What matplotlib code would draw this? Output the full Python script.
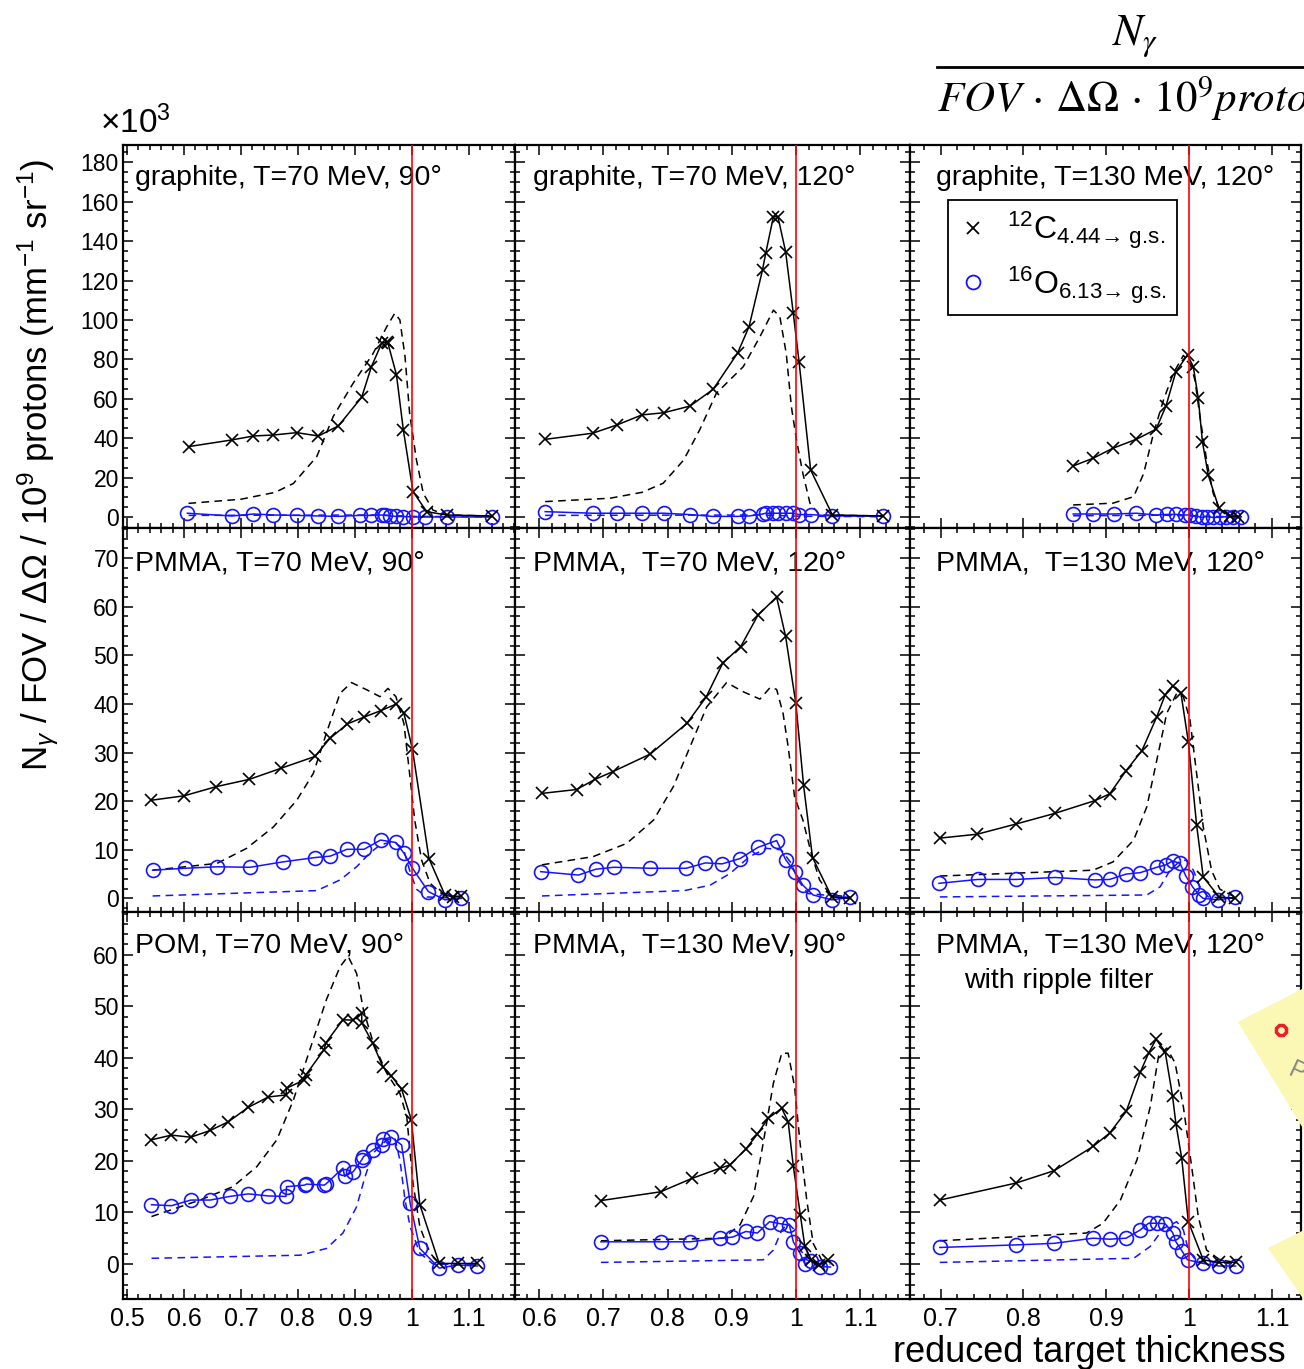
import matplotlib
matplotlib.use('Agg')
import matplotlib.pyplot as plt
from matplotlib.lines import Line2D
from matplotlib.patches import Polygon
from matplotlib.ticker import MultipleLocator, FuncFormatter
from matplotlib import font_manager

plt.rcParams['font.family'] = ['Liberation Sans', 'DejaVu Sans']
plt.rcParams['mathtext.fontset'] = 'custom'
plt.rcParams['mathtext.rm'] = 'Liberation Sans'
plt.rcParams['mathtext.it'] = 'Liberation Sans:italic'
plt.rcParams['mathtext.bf'] = 'Liberation Sans:bold'

names = {f.name for f in font_manager.fontManager.ttflist}
narrow = 'Liberation Sans Narrow' if 'Liberation Sans Narrow' in names else 'Liberation Sans'

# graphite, T=70 MeV, 90 deg
gr70_90_c_x = [0.608, 0.684, 0.722, 0.757, 0.798, 0.836, 0.871, 0.912, 0.929, 0.947, 0.956, 0.958, 0.973, 0.985, 1.002, 1.026, 1.061, 1.140]
gr70_90_c_y = [35.7, 39.1, 41.1, 41.6, 42.8, 41.1, 46.2, 60.8, 76.3, 88.2, 89.0, 88.2, 72.1, 44.2, 12.9, 2.7, 1.0, 0.5]
gr70_90_o_x = [0.606, 0.684, 0.722, 0.757, 0.798, 0.836, 0.871, 0.909, 0.929, 0.947, 0.953, 0.962, 0.973, 0.985, 1.002, 1.023, 1.061, 1.140]
gr70_90_o_y = [1.9, 0.5, 1.5, 1.0, 0.8, 0.5, 0.3, 0.8, 0.8, 1.0, 0.8, 0.5, 0.3, 0.2, 0.0, 0.0, 0.0, 0.0]
gr70_90_csim_x = [0.608, 0.700, 0.760, 0.792, 0.833, 0.862, 0.897, 0.932, 0.956, 0.970, 0.979, 0.988, 0.996, 1.008, 1.020, 1.037, 1.061, 1.140]
gr70_90_csim_y = [6.9, 9.0, 12.5, 17.0, 30.6, 51.0, 67.9, 83.0, 96.6, 103.4, 100.0, 81.4, 52.8, 29.0, 12.0, 3.5, 1.0, 0.5]
gr70_90_osim_x = [0.608, 0.950, 1.000, 1.140]
gr70_90_osim_y = [0.8, 1.0, 0.3, 0.1]

# graphite, T=70 MeV, 120 deg
gr70_120_c_x = [0.609, 0.683, 0.721, 0.760, 0.794, 0.835, 0.871, 0.909, 0.927, 0.948, 0.953, 0.965, 0.972, 0.984, 0.996, 1.005, 1.023, 1.057, 1.136]
gr70_120_c_y = [39.4, 42.5, 46.7, 51.8, 52.9, 56.3, 64.8, 83.1, 96.6, 125.4, 133.9, 152.4, 152.4, 134.7, 103.4, 78.8, 23.9, 1.0, 0.5]
gr70_120_o_x = [0.609, 0.683, 0.721, 0.760, 0.794, 0.835, 0.870, 0.909, 0.927, 0.948, 0.953, 0.965, 0.972, 0.984, 0.996, 1.005, 1.023, 1.057, 1.136]
gr70_120_o_y = [2.7, 1.9, 1.9, 1.9, 1.9, 1.2, 0.3, 0.3, 0.5, 1.5, 1.9, 1.9, 1.9, 1.9, 1.9, 1.2, 1.2, 0.5, 0.5]
gr70_120_csim_x = [0.609, 0.710, 0.760, 0.793, 0.825, 0.850, 0.876, 0.918, 0.944, 0.965, 0.975, 0.985, 0.993, 1.001, 1.011, 1.022, 1.037, 1.136]
gr70_120_csim_y = [7.8, 9.5, 12.5, 17.1, 28.9, 44.2, 62.8, 76.3, 91.5, 105.0, 101.7, 83.0, 56.0, 39.0, 22.0, 7.0, 1.0, 0.5]
gr70_120_osim_x = [0.609, 0.950, 1.000, 1.136]
gr70_120_osim_y = [0.8, 1.0, 0.4, 0.1]

# graphite, T=130 MeV, 120 deg
gr130_120_c_x = [0.860, 0.884, 0.908, 0.936, 0.960, 0.972, 0.984, 0.998, 1.005, 1.011, 1.016, 1.023, 1.036, 1.049, 1.059]
gr130_120_c_y = [25.9, 29.8, 34.9, 39.4, 44.5, 56.3, 73.8, 82.2, 76.3, 60.2, 38.2, 21.3, 4.4, 0.5, 0.2]
gr130_120_o_x = [0.860, 0.884, 0.909, 0.936, 0.960, 0.973, 0.984, 0.995, 1.001, 1.008, 1.015, 1.021, 1.029, 1.037, 1.045, 1.053, 1.063]
gr130_120_o_y = [1.5, 1.5, 1.5, 1.9, 1.0, 1.3, 1.3, 1.0, 1.0, 0.5, -0.2, 0.2, -0.2, -0.2, 0.2, -0.2, 0.2]
gr130_120_csim_x = [0.860, 0.908, 0.933, 0.945, 0.957, 0.969, 0.981, 0.993, 1.001, 1.007, 1.013, 1.021, 1.029, 1.037, 1.049, 1.059]
gr130_120_csim_y = [6.1, 7.0, 10.3, 22.0, 42.5, 59.4, 73.0, 82.0, 78.0, 69.5, 51.0, 29.0, 12.0, 3.5, 1.0, 0.5]
gr130_120_osim_x = [0.860, 0.970, 1.010, 1.059]
gr130_120_osim_y = [0.6, 0.9, 0.4, 0.1]

# PMMA, T=70 MeV, 90 deg
pm70_90_c_x = [0.543, 0.600, 0.657, 0.715, 0.771, 0.830, 0.856, 0.887, 0.916, 0.945, 0.973, 0.986, 1.001, 1.030, 1.058, 1.072, 1.087]
pm70_90_c_y = [20.2, 21.1, 23.0, 24.5, 26.8, 29.2, 32.9, 35.9, 37.3, 38.6, 40.0, 38.1, 30.7, 8.2, 0.7, 0.3, 0.5]
pm70_90_o_x = [0.545, 0.602, 0.658, 0.716, 0.773, 0.830, 0.857, 0.886, 0.916, 0.945, 0.972, 0.986, 1.001, 1.029, 1.058, 1.087]
pm70_90_o_y = [5.8, 6.2, 6.5, 6.4, 7.5, 8.4, 8.7, 10.1, 10.1, 12.0, 11.5, 9.3, 6.2, 1.4, -0.3, 0.0]
pm70_90_csim_x = [0.545, 0.658, 0.710, 0.757, 0.798, 0.827, 0.850, 0.874, 0.894, 0.921, 0.944, 0.958, 0.972, 0.986, 0.996, 1.005, 1.017, 1.032, 1.055, 1.087]
pm70_90_csim_y = [5.8, 7.2, 10.3, 14.7, 20.2, 25.7, 34.0, 42.2, 44.4, 42.9, 41.5, 43.2, 41.5, 36.0, 25.7, 16.1, 7.9, 3.1, 0.7, 0.3]
pm70_90_osim_x = [0.545, 0.833, 0.874, 0.903, 0.926, 0.944, 0.967, 0.985, 0.996, 1.008, 1.026, 1.087]
pm70_90_osim_y = [0.5, 1.6, 3.8, 6.5, 9.3, 11.0, 11.7, 10.3, 5.8, 1.9, 0.3, 0.0]

# PMMA, T=70 MeV, 120 deg
pm70_120_c_x = [0.604, 0.658, 0.687, 0.715, 0.773, 0.830, 0.860, 0.886, 0.914, 0.941, 0.970, 0.984, 1.000, 1.012, 1.026, 1.056, 1.084]
pm70_120_c_y = [21.6, 22.4, 24.5, 26.1, 29.7, 36.0, 41.4, 48.4, 51.8, 58.3, 62.0, 53.9, 40.1, 23.3, 8.4, 0.3, 0.0]
pm70_120_o_x = [0.602, 0.661, 0.688, 0.716, 0.773, 0.829, 0.859, 0.885, 0.913, 0.941, 0.970, 0.984, 0.998, 1.011, 1.027, 1.056, 1.084]
pm70_120_o_y = [5.5, 4.8, 6.0, 6.4, 6.2, 6.2, 7.3, 7.1, 8.2, 10.5, 11.9, 8.0, 5.5, 2.7, 0.7, -0.3, 0.2]
pm70_120_csim_x = [0.604, 0.684, 0.736, 0.778, 0.809, 0.835, 0.861, 0.892, 0.918, 0.944, 0.960, 0.970, 0.980, 0.988, 0.998, 1.011, 1.024, 1.037, 1.054, 1.084]
pm70_120_csim_y = [6.9, 8.6, 11.3, 16.1, 23.0, 31.2, 39.4, 44.4, 42.5, 41.0, 43.4, 43.0, 38.1, 31.2, 20.9, 16.1, 9.3, 3.8, 0.7, 0.3]
pm70_120_osim_x = [0.604, 0.826, 0.866, 0.897, 0.928, 0.954, 0.977, 0.993, 1.003, 1.019, 1.084]
pm70_120_osim_y = [0.5, 1.6, 2.7, 5.1, 8.6, 10.3, 10.0, 7.2, 3.8, 1.0, 0.2]

# PMMA, T=130 MeV, 120 deg
pm130_120_c_x = [0.699, 0.744, 0.791, 0.838, 0.886, 0.904, 0.924, 0.943, 0.961, 0.971, 0.980, 0.990, 0.999, 1.009, 1.017, 1.036, 1.055]
pm130_120_c_y = [12.4, 13.2, 15.3, 17.5, 20.1, 21.5, 26.3, 30.4, 37.4, 41.9, 43.7, 42.3, 32.2, 15.1, 4.4, 0.3, 0.0]
pm130_120_o_x = [0.698, 0.745, 0.791, 0.838, 0.886, 0.904, 0.924, 0.941, 0.961, 0.972, 0.980, 0.989, 0.996, 1.004, 1.012, 1.017, 1.035, 1.055]
pm130_120_o_y = [3.1, 3.9, 3.9, 4.3, 3.8, 3.9, 5.0, 5.3, 6.4, 6.9, 7.7, 7.2, 4.6, 2.4, 0.7, 0.0, -0.3, 0.2]
pm130_120_csim_x = [0.699, 0.884, 0.908, 0.933, 0.949, 0.961, 0.973, 0.985, 0.993, 1.001, 1.009, 1.017, 1.027, 1.037, 1.055]
pm130_120_csim_y = [4.6, 5.8, 7.5, 12.0, 18.9, 28.5, 38.1, 42.2, 41.5, 36.7, 25.7, 14.7, 5.8, 1.9, 0.3]
pm130_120_osim_x = [0.699, 0.949, 0.965, 0.977, 0.989, 0.997, 1.005, 1.013, 1.023, 1.055]
pm130_120_osim_y = [0.3, 0.7, 2.4, 5.8, 7.7, 7.9, 5.8, 2.4, 0.3, 0.0]

# POM, T=70 MeV, 90 deg
pom70_90_c_x = [0.543, 0.578, 0.612, 0.646, 0.678, 0.713, 0.748, 0.779, 0.780, 0.811, 0.814, 0.846, 0.849, 0.879, 0.897, 0.912, 0.912, 0.931, 0.949, 0.964, 0.982, 0.999, 1.014, 1.048, 1.081, 1.115]
pom70_90_c_y = [24.1, 25.0, 24.6, 25.9, 27.6, 30.4, 32.4, 32.8, 34.1, 35.7, 36.7, 41.6, 42.9, 47.4, 47.3, 48.7, 46.8, 42.9, 38.3, 36.5, 33.9, 28.0, 11.5, 0.1, 0.1, 0.1]
pom70_90_o_x = [0.543, 0.578, 0.612, 0.646, 0.680, 0.713, 0.748, 0.779, 0.780, 0.812, 0.815, 0.846, 0.849, 0.879, 0.882, 0.897, 0.912, 0.915, 0.931, 0.947, 0.950, 0.964, 0.982, 0.997, 1.014, 1.048, 1.081, 1.115]
pom70_90_o_y = [11.5, 11.3, 12.4, 12.4, 13.1, 13.6, 13.2, 13.1, 15.0, 15.3, 15.5, 15.3, 15.5, 18.6, 17.0, 17.9, 20.2, 20.8, 22.1, 23.1, 24.2, 24.6, 23.1, 11.8, 3.0, -0.8, -0.2, -0.4]
pom70_90_csim_x = [0.543, 0.628, 0.686, 0.728, 0.763, 0.792, 0.821, 0.850, 0.874, 0.888, 0.903, 0.915, 0.932, 0.956, 0.979, 0.991, 1.002, 1.014, 1.032, 1.049, 1.115]
pom70_90_csim_y = [9.2, 12.4, 15.0, 18.9, 24.1, 31.8, 41.6, 51.3, 57.7, 59.7, 56.4, 49.3, 43.0, 37.0, 33.1, 28.6, 15.7, 7.2, 2.1, 0.0, 0.0]
pom70_90_osim_x = [0.543, 0.804, 0.850, 0.879, 0.903, 0.918, 0.932, 0.956, 0.970, 0.979, 0.988, 0.997, 1.014, 1.037, 1.115]
pom70_90_osim_y = [1.1, 1.7, 3.0, 6.0, 11.1, 17.0, 21.5, 24.1, 24.4, 20.2, 12.4, 7.2, 2.1, 0.0, 0.0]

# PMMA, T=130 MeV, 90 deg
pm130_90_c_x = [0.696, 0.789, 0.838, 0.882, 0.897, 0.922, 0.940, 0.957, 0.978, 0.988, 0.996, 1.007, 1.014, 1.024, 1.036, 1.050]
pm130_90_c_y = [12.3, 14.0, 16.6, 18.6, 19.2, 22.3, 25.2, 28.3, 30.2, 27.6, 19.0, 9.5, 3.4, 0.8, -0.2, 0.8]
pm130_90_o_x = [0.696, 0.789, 0.835, 0.882, 0.901, 0.922, 0.940, 0.959, 0.976, 0.990, 0.996, 1.006, 1.014, 1.024, 1.037, 1.054]
pm130_90_o_y = [4.3, 4.3, 4.3, 5.0, 5.2, 6.3, 6.0, 8.2, 7.8, 7.5, 4.3, 2.2, 0.0, 0.6, -0.5, -0.6]
pm130_90_csim_x = [0.696, 0.887, 0.913, 0.934, 0.949, 0.965, 0.978, 0.988, 0.998, 1.006, 1.017, 1.027, 1.040, 1.054]
pm130_90_csim_y = [4.5, 5.0, 7.6, 13.1, 23.4, 35.1, 40.9, 40.9, 34.4, 24.1, 12.4, 4.0, 0.8, 0.3]
pm130_90_osim_x = [0.696, 0.949, 0.965, 0.978, 0.988, 0.998, 1.006, 1.017, 1.037, 1.054]
pm130_90_osim_y = [0.3, 0.8, 2.7, 6.6, 7.9, 6.6, 3.0, 0.8, 0.0, 0.0]

# PMMA, T=130 MeV, 120 deg, ripple filter
rf130_120_c_x = [0.699, 0.791, 0.837, 0.884, 0.904, 0.924, 0.941, 0.951, 0.960, 0.971, 0.980, 0.984, 0.991, 0.999, 1.017, 1.036, 1.056]
rf130_120_c_y = [12.4, 15.7, 18.1, 22.8, 25.4, 29.6, 37.2, 40.9, 43.6, 41.2, 32.5, 27.2, 20.5, 8.2, 0.8, 0.3, 0.3]
rf130_120_o_x = [0.699, 0.791, 0.837, 0.884, 0.904, 0.924, 0.941, 0.951, 0.961, 0.971, 0.980, 0.984, 0.991, 0.998, 1.017, 1.036, 1.056]
rf130_120_o_y = [3.2, 3.7, 4.0, 5.0, 4.8, 5.0, 6.6, 7.9, 7.9, 7.8, 6.1, 4.3, 2.6, 0.8, 0.1, -0.4, -0.4]
rf130_120_csim_x = [0.699, 0.876, 0.896, 0.917, 0.937, 0.953, 0.963, 0.973, 0.983, 0.993, 1.003, 1.011, 1.021, 1.037, 1.056]
rf130_120_csim_y = [4.5, 6.0, 7.9, 12.4, 20.2, 30.5, 40.3, 41.9, 39.0, 30.5, 18.9, 9.2, 2.7, 0.8, 0.3]
rf130_120_osim_x = [0.699, 0.933, 0.953, 0.969, 0.985, 0.993, 0.999, 1.009, 1.056]
rf130_120_osim_y = [0.3, 1.1, 3.4, 6.9, 8.2, 6.6, 2.7, 0.5, 0.0]

titles = [
    ['graphite, T=70 MeV, 90°', 'graphite, T=70 MeV, 120°', 'graphite, T=130 MeV, 120°'],
    ['PMMA, T=70 MeV, 90°', 'PMMA,  T=70 MeV, 120°', 'PMMA,  T=130 MeV, 120°'],
    ['POM, T=70 MeV, 90°', 'PMMA,  T=130 MeV, 90°', 'PMMA,  T=130 MeV, 120°'],
]

series = [
    [(gr70_90_c_x, gr70_90_c_y, gr70_90_o_x, gr70_90_o_y, gr70_90_csim_x, gr70_90_csim_y, gr70_90_osim_x, gr70_90_osim_y),
     (gr70_120_c_x, gr70_120_c_y, gr70_120_o_x, gr70_120_o_y, gr70_120_csim_x, gr70_120_csim_y, gr70_120_osim_x, gr70_120_osim_y),
     (gr130_120_c_x, gr130_120_c_y, gr130_120_o_x, gr130_120_o_y, gr130_120_csim_x, gr130_120_csim_y, gr130_120_osim_x, gr130_120_osim_y)],
    [(pm70_90_c_x, pm70_90_c_y, pm70_90_o_x, pm70_90_o_y, pm70_90_csim_x, pm70_90_csim_y, pm70_90_osim_x, pm70_90_osim_y),
     (pm70_120_c_x, pm70_120_c_y, pm70_120_o_x, pm70_120_o_y, pm70_120_csim_x, pm70_120_csim_y, pm70_120_osim_x, pm70_120_osim_y),
     (pm130_120_c_x, pm130_120_c_y, pm130_120_o_x, pm130_120_o_y, pm130_120_csim_x, pm130_120_csim_y, pm130_120_osim_x, pm130_120_osim_y)],
    [(pom70_90_c_x, pom70_90_c_y, pom70_90_o_x, pom70_90_o_y, pom70_90_csim_x, pom70_90_csim_y, pom70_90_osim_x, pom70_90_osim_y),
     (pm130_90_c_x, pm130_90_c_y, pm130_90_o_x, pm130_90_o_y, pm130_90_csim_x, pm130_90_csim_y, pm130_90_osim_x, pm130_90_osim_y),
     (rf130_120_c_x, rf130_120_c_y, rf130_120_o_x, rf130_120_o_y, rf130_120_csim_x, rf130_120_csim_y, rf130_120_osim_x, rf130_120_osim_y)],
]

xlims = [(0.493, 1.181), (0.562, 1.178), (0.663, 1.135)]
ylims = [(-5.6, 188.8), (-2.8, 76.2), (-6.8, 68.3)]
ymajor = [20, 10, 10]
yminor = [5, 2, 2]

W, H = 1304, 1369
col_px = [(123, 515), (515, 910), (910, 1301)]
row_px = [(145, 528), (528, 912), (912, 1299)]
title_left_px = [135, 533, 936]
title_mid_px = [178, 563, 946]

fig = plt.figure(figsize=(W / 100, H / 100), dpi=100)

blue = '#1414ff'
dash = (0, (5, 3.5))
for r in range(3):
    for c in range(3):
        x0, x1 = col_px[c]
        y0, y1 = row_px[r]
        ax = fig.add_axes([x0 / W, 1 - y1 / H, (x1 - x0) / W, (y1 - y0) / H])
        cx, cy, ox, oy, csx, csy, osx, osy = series[r][c]
        ax.plot(csx, csy, color='k', ls=dash, lw=1.1)
        ax.plot(osx, osy, color=blue, ls=dash, lw=1.1)
        ax.plot(ox, oy, color=blue, lw=1.1, marker='o', ms=10, mfc='none', mew=1.2)
        ax.plot(cx, cy, color='k', lw=1.1, marker='x', ms=9, mew=1.2)
        ax.axvline(1.0, color='red', lw=1.2, zorder=4)
        ax.set_xlim(*xlims[c])
        ax.set_ylim(*ylims[r])
        ax.xaxis.set_major_locator(MultipleLocator(0.1))
        ax.xaxis.set_minor_locator(MultipleLocator(0.02))
        ax.yaxis.set_major_locator(MultipleLocator(ymajor[r]))
        ax.yaxis.set_minor_locator(MultipleLocator(yminor[r]))
        ax.xaxis.set_major_formatter(FuncFormatter(lambda v, p: f'{v:g}'))
        ax.yaxis.set_major_formatter(FuncFormatter(lambda v, p: f'{v:g}'))
        ax.tick_params(which='both', direction='in', top=True, right=True, width=1.1)
        ax.tick_params(which='major', length=7)
        ax.tick_params(which='minor', length=3.5)
        ax.tick_params(axis='y', labelsize=16.5, pad=3)
        ax.tick_params(axis='x', labelsize=18, pad=6)
        for lab in ax.get_xticklabels():
            lab.set_family(narrow)
        if c != 0:
            ax.tick_params(labelleft=False)
        if r != 2:
            ax.tick_params(labelbottom=False)
        for s in ax.spines.values():
            s.set_linewidth(1.6)
        ax.text((title_left_px[c] - x0) / (x1 - x0), 1 - (title_mid_px[r] - y0) / (y1 - y0),
                titles[r][c], transform=ax.transAxes, fontsize=20.5, va='center', ha='left')
        if r == 2 and c == 2:
            ax.text((964 - x0) / (x1 - x0), 1 - (981 - y0) / (y1 - y0), 'with ripple filter',
                    transform=ax.transAxes, fontsize=20.5, va='center', ha='left')
        if r == 0 and c == 2:
            handles = [Line2D([], [], color='k', marker='x', ls='none', ms=9, mew=1.3),
                       Line2D([], [], color=blue, marker='o', ls='none', ms=10, mfc='none', mew=1.3)]
            labels = [r'$^{12}\mathrm{C}_{\mathrm{4.44→\ g.\!s.}}$',
                      r'$^{16}\mathrm{O}_{\mathrm{6.13→\ g.\!s.}}$']
            leg = ax.legend(handles, labels, loc='upper left', bbox_to_anchor=(0.097, 0.856),
                            borderaxespad=0, fontsize=23, frameon=True, fancybox=False,
                            edgecolor='k', framealpha=1, handlelength=1.0, handletextpad=0.55,
                            labelspacing=0.4, borderpad=0.3)
            leg.get_frame().set_linewidth(1.3)

fig.text(38 / W, 1 - 465 / H, r'N$_\gamma$ / FOV / $\Delta\Omega$ / 10$^9$ protons (mm$^{-1}$ sr$^{-1}$)',
         rotation=90, ha='center', va='center', fontsize=25)
fig.text(100 / W, 1 - 133 / H, r'$\times$10$^3$', fontsize=24, ha='left', va='baseline')
fig.text(893 / W, 1 - 1362 / H, 'reduced target thickness', family=narrow, fontsize=26,
         ha='left', va='baseline')

# normalisation formula above the panels
fig.text(1135 / W, 1 - 36 / H, r'$N_\gamma$', math_fontfamily='stix', fontsize=32, ha='center', va='center')
fig.add_artist(Line2D([937 / W, 1.0], [1 - 67 / H] * 2, transform=fig.transFigure, color='k', lw=2))
fig.text(937 / W, 1 - 112 / H, r'$FOV\,\cdot\,\Delta\Omega\,\cdot\,10^9 protons$', math_fontfamily='stix',
         fontsize=31, ha='left', va='baseline')

# sticky notes at the right margin
note1 = [(1238 / W, 1 - 1022 / H), (1304 / W, 1 - 988 / H), (1304 / W, 1 - 1130 / H)]
note2 = [(1268 / W, 1 - 1248 / H), (1304 / W, 1 - 1230 / H), (1304 / W, 1 - 1300 / H)]
for pts in (note1, note2):
    fig.add_artist(Polygon(pts, closed=True, transform=fig.transFigure, facecolor='#fbf7b5',
                           edgecolor='none', zorder=10))
fig.add_artist(Line2D([1281 / W], [1 - 1030 / H], transform=fig.transFigure, marker='8', ms=8,
                      mfc='none', mec='#e8202a', mew=2.5, zorder=11))
fig.text(1285 / W, 1 - 1082 / H, 'P', fontsize=18, color='#888888', rotation=-25, zorder=11)

fig.savefig('out.png', dpi=100)
